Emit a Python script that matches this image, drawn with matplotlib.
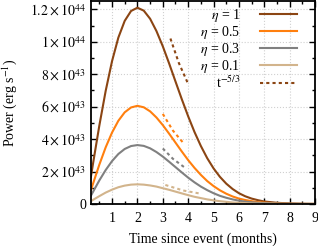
import numpy as np
import matplotlib
matplotlib.use("Agg")
import matplotlib.pyplot as plt
from matplotlib.ticker import MultipleLocator

plt.rcParams['font.family'] = 'serif'
plt.rcParams['font.serif'] = ['Liberation Serif', 'DejaVu Serif']
plt.rcParams['mathtext.fontset'] = 'stix'

# time since event (months)
t = [0.17, 0.25, 0.5, 0.75, 1.0, 1.25, 1.5, 1.75, 2.0, 2.25, 2.5, 2.75, 3.0,
     3.25, 3.5, 3.75, 4.0, 4.25, 4.5, 4.75, 5.0, 5.25, 5.5, 5.75, 6.0, 6.25,
     6.5, 6.75, 7.0, 7.5, 8.0, 8.5, 9.0]

# power in units of 1e43 erg/s
p_eta1 = [1.69, 2.47, 4.83, 6.97, 8.80, 10.26, 11.29, 11.90, 12.10, 11.92,
          11.42, 10.66, 9.72, 8.66, 7.55, 6.45, 5.40, 4.43, 3.57, 2.82, 2.19,
          1.67, 1.25, 0.92, 0.66, 0.47, 0.33, 0.23, 0.15, 0.07, 0.03, 0.01, 0.0]
p_eta05 = [0.85, 1.24, 2.42, 3.49, 4.40, 5.13, 5.65, 5.95, 6.05, 5.96,
           5.71, 5.33, 4.86, 4.33, 3.78, 3.23, 2.70, 2.22, 1.79, 1.41, 1.10,
           0.84, 0.63, 0.46, 0.33, 0.24, 0.17, 0.11, 0.08, 0.03, 0.01, 0.0, 0.0]
p_eta03 = [0.51, 0.74, 1.45, 2.09, 2.64, 3.08, 3.39, 3.57, 3.63, 3.58,
           3.43, 3.20, 2.92, 2.60, 2.27, 1.94, 1.62, 1.33, 1.07, 0.85, 0.66,
           0.50, 0.38, 0.28, 0.20, 0.14, 0.10, 0.07, 0.05, 0.02, 0.01, 0.0, 0.0]
p_eta01 = [0.17, 0.25, 0.48, 0.70, 0.88, 1.03, 1.13, 1.19, 1.21, 1.19,
           1.14, 1.07, 0.97, 0.87, 0.76, 0.65, 0.54, 0.44, 0.36, 0.28, 0.22,
           0.17, 0.13, 0.09, 0.07, 0.05, 0.03, 0.02, 0.02, 0.01, 0.0, 0.0, 0.0]

# t^-5/3 guide segments
t_g1, p_g1 = [3.3, 3.63, 3.97], [10.2, 8.7, 7.5]
t_g05, p_g05 = [3.0, 3.4, 3.85], [5.55, 4.52, 3.68]
t_g03, p_g03 = [3.0, 3.4, 3.85], [3.42, 2.78, 2.26]
t_g01, p_g01 = [3.1, 3.8, 4.5], [1.17, 0.83, 0.63]

labels = [r'$\eta$ = 1', r'$\eta$ = 0.5', r'$\eta$ = 0.3', r'$\eta$ = 0.1']
colors = ['#8b4513', '#ff7f0e', '#808080', '#d2b48c']

yticks = [0, 2e43, 4e43, 6e43, 8e43, 1e44, 1.2e44]
yticklabels = ['0', r'$2\times10^{43}$', r'$4\times10^{43}$', r'$6\times10^{43}$',
               r'$8\times10^{43}$', r'$1\times10^{44}$', r'$1.2\times10^{44}$']

fig = plt.figure(figsize=(3.18, 2.46), dpi=100)
ax = fig.add_axes([0.286, 0.171, 0.705, 0.824])

series = [p_eta1, p_eta05, p_eta03, p_eta01]
guides = [(t_g1, p_g1), (t_g05, p_g05), (t_g03, p_g03), (t_g01, p_g01)]
for s, lab, c in zip(series, labels, colors):
    ax.plot(t, np.array(s) * 1e43, color=c, lw=1.5, label=lab)
for i, (tg, pg) in enumerate(guides):
    ax.plot(tg, np.array(pg) * 1e43, color=colors[i], lw=1.5,
            ls=(0, (1.5, 1.5)), label=r't$^{-5/3}$' if i == 0 else None)

ax.set_xlim(0.17, 9)
ax.set_ylim(0, 1.25e44)
ax.set_xticks(range(1, 10))
ax.set_yticks(yticks)
ax.set_yticklabels(yticklabels)
ax.xaxis.set_minor_locator(MultipleLocator(0.5))
ax.yaxis.set_minor_locator(MultipleLocator(1e43))
ax.tick_params(which='both', direction='in', top=True, right=True, labelsize=10)
ax.tick_params(which='major', length=4, width=1)
ax.tick_params(which='minor', length=2, width=1)
ax.tick_params(axis='x', which='major', pad=6)
ax.grid(True, which='major', ls=':', color='#d0d0d0', lw=0.8)
for sp in ax.spines.values():
    sp.set_linewidth(1.3)

ax.set_xlabel('Time since event (months)', fontsize=10, labelpad=5)
ax.set_ylabel(r'Power (erg s$^{-1}$)', fontsize=10, labelpad=8)

ax.legend(loc='upper right', bbox_to_anchor=(0.945, 1.0), frameon=False,
          fontsize=10, markerfirst=False, handlelength=2.7, handletextpad=1.4,
          labelspacing=0.0, borderaxespad=0)

fig.savefig('out.png', dpi=100)
